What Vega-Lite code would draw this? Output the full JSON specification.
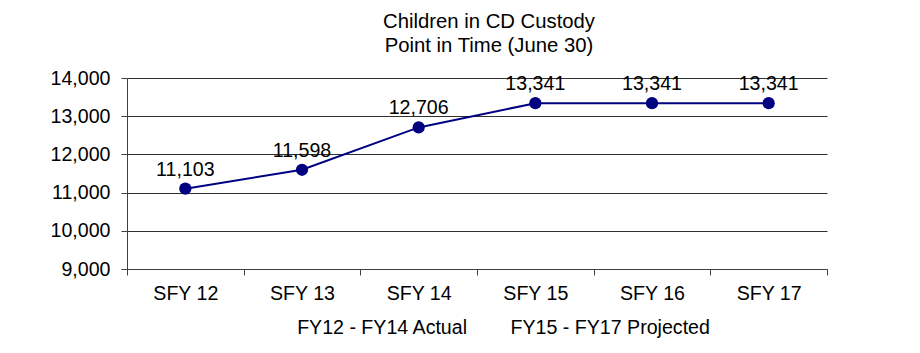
{
  "$schema": "https://vega.github.io/schema/vega-lite/v6.json",
  "autosize": {"type": "none"},
  "width": 700,
  "height": 191,
  "padding": {"left": 127, "top": 78, "right": 93, "bottom": 84},
  "background": "white",
  "title": {
    "text": ["Children in CD Custody", "Point in Time (June 30)"],
    "anchor": "middle",
    "frame": "group",
    "dx": 12,
    "offset": 12,
    "fontSize": 20.3,
    "fontWeight": "normal",
    "lineHeight": 24,
    "color": "#000000",
    "font": "Liberation Sans"
  },
  "data": {
    "values": [
      {"year": "SFY 12", "children": 11103},
      {"year": "SFY 13", "children": 11598},
      {"year": "SFY 14", "children": 12706},
      {"year": "SFY 15", "children": 13341},
      {"year": "SFY 16", "children": 13341},
      {"year": "SFY 17", "children": 13341}
    ]
  },
  "encoding": {
    "x": {
      "field": "year",
      "type": "ordinal",
      "sort": null,
      "scale": {"type": "band", "paddingInner": 0, "paddingOuter": 0},
      "axis": {
        "title": "FY12 - FY14 Actual\u00a0\u00a0\u00a0\u00a0\u00a0\u00a0\u00a0\u00a0FY15 - FY17 Projected",
        "titleX": 376,
        "titleY": 58,
        "titleAlign": "center",
        "titleBaseline": "middle",
        "titleFontSize": 19.6,
        "titleFontWeight": "normal",
        "titleColor": "#000000",
        "labelAngle": 0,
        "labelFontSize": 19.6,
        "labelColor": "#000000",
        "labelBaseline": "middle",
        "labelPadding": 18,
        "tickBand": "extent",
        "tickSize": 6,
        "grid": false
      }
    },
    "y": {
      "field": "children",
      "type": "quantitative",
      "scale": {"domain": [9000, 14000], "nice": false, "zero": false},
      "axis": {
        "title": null,
        "values": [9000, 10000, 11000, 12000, 13000, 14000],
        "format": ",d",
        "labelFontSize": 19.6,
        "labelColor": "#000000",
        "labelPadding": 11,
        "tickSize": 6,
        "grid": true
      }
    }
  },
  "layer": [
    {
      "mark": {"type": "line", "color": "#000080", "strokeWidth": 2}
    },
    {
      "mark": {"type": "point", "filled": true, "shape": "circle", "size": 150, "color": "#000080", "opacity": 1}
    },
    {
      "mark": {"type": "text", "dy": -19, "baseline": "middle", "fontSize": 19.6, "color": "#000000"},
      "encoding": {
        "text": {"field": "children", "type": "quantitative", "format": ",d"}
      }
    }
  ],
  "config": {
    "font": "Liberation Sans",
    "view": {"stroke": null},
    "axis": {
      "domainColor": "#404040",
      "tickColor": "#404040",
      "gridColor": "#303030",
      "gridOpacity": 1,
      "domainWidth": 1,
      "tickWidth": 1,
      "gridWidth": 1,
      "labelFont": "Liberation Sans",
      "titleFont": "Liberation Sans"
    }
  }
}
